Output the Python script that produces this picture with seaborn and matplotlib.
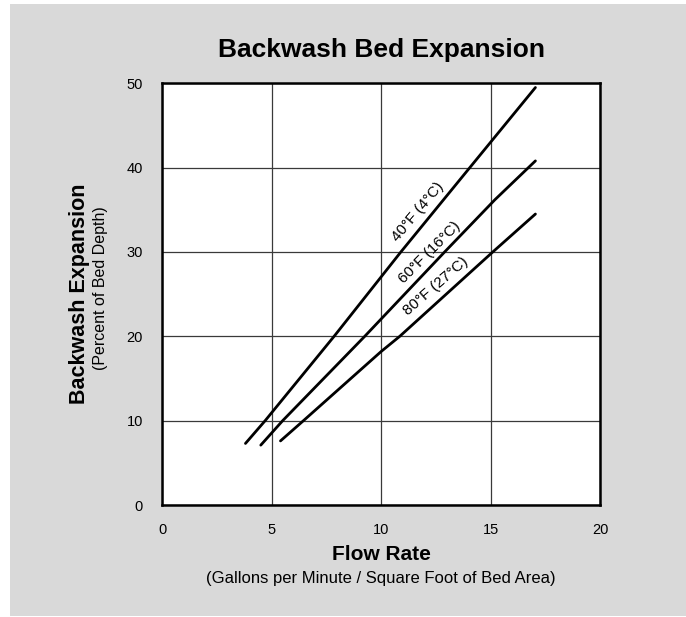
import pandas as pd
import seaborn as sns
import matplotlib.pyplot as plt
from matplotlib.patches import Rectangle

# curve points (flow rate, % expansion)
flow_40f = [3.8, 4.7, 7.85, 10.9, 14.05, 17.05]
exp_40f = [7.3, 10.0, 20.0, 30.0, 40.0, 49.5]

flow_60f = [4.5, 5.5, 9.25, 12.9, 15.2, 17.05]
exp_60f = [7.1, 10.0, 20.0, 30.0, 36.2, 40.8]

flow_80f = [5.4, 6.45, 10.0, 10.85, 15.1, 17.05]
exp_80f = [7.6, 10.0, 18.2, 20.0, 30.0, 34.5]

labels = ["40°F (4°C)", "60°F (16°C)", "80°F (27°C)"]
label_pos = [(11.7, 34.8), (12.23, 30.0), (12.5, 25.9)]
label_rot = [50, 45, 41]

x_ticks = [0, 5, 10, 15, 20]
y_ticks = [0, 10, 20, 30, 40, 50]

frames = []
for name, xs, ys in zip(labels, [flow_40f, flow_60f, flow_80f], [exp_40f, exp_60f, exp_80f]):
    frames.append(pd.DataFrame({"flow": xs, "expansion": ys, "temp": name}))
df = pd.concat(frames, ignore_index=True)

sns.set_style("white")
plt.rcParams["font.family"] = ["Liberation Sans", "DejaVu Sans"]
plt.rcParams["text.color"] = "black"
plt.rcParams["xtick.color"] = "black"
plt.rcParams["ytick.color"] = "black"

fig = plt.figure(figsize=(6.86, 6.17), dpi=100, facecolor="white")
bg = Rectangle((10 / 686, 1 / 617), 1 - 10 / 686, 1 - 5 / 617,
               transform=fig.transFigure, facecolor="#d9d9d9",
               edgecolor="none", zorder=-10)
fig.patches.append(bg)
ax = fig.add_axes([0.2366, 0.1815, 0.638, 0.6835])
ax.set_zorder(1)
ax.set_facecolor("white")

sns.lineplot(data=df, x="flow", y="expansion", hue="temp", palette=["black"] * 3,
             estimator=None, sort=False, legend=False, linewidth=2.0, ax=ax)

for text, (tx, ty), rot in zip(labels, label_pos, label_rot):
    ax.text(tx, ty, text, rotation=rot, rotation_mode="anchor", ha="center", va="center",
            fontsize=11, color="black")

ax.set_xlim(0, 20)
ax.set_ylim(0, 50)
ax.set_xticks(x_ticks)
ax.set_yticks(y_ticks)
ax.grid(True, color="#3a3a3a", linewidth=0.9)
ax.tick_params(length=0, labelsize=10.5, colors="black")
ax.tick_params(axis="x", pad=13)
ax.tick_params(axis="y", pad=14)
for sp in ax.spines.values():
    sp.set_visible(True)
    sp.set_color("black")
    sp.set_linewidth(1.8)

ax.set_xlabel("")
ax.set_ylabel("")
fig.text(0.5555, 1 - 50 / 617, "Backwash Bed Expansion", ha="center", va="center",
         fontsize=19, fontweight="bold")
fig.text(0.5555, 1 - 555 / 617, "Flow Rate", ha="center", va="center",
         fontsize=15, fontweight="bold")
fig.text(0.5555, 1 - 578 / 617, "(Gallons per Minute / Square Foot of Bed Area)",
         ha="center", va="center", fontsize=12)
fig.text(80 / 686, 1 - 294 / 617, "Backwash Expansion", ha="center", va="center",
         rotation=90, fontsize=15.5, fontweight="bold")
fig.text(101 / 686, 1 - 288 / 617, "(Percent of Bed Depth)", ha="center", va="center",
         rotation=90, fontsize=11.5)

plt.savefig("out.png", dpi=100, facecolor=fig.get_facecolor())
